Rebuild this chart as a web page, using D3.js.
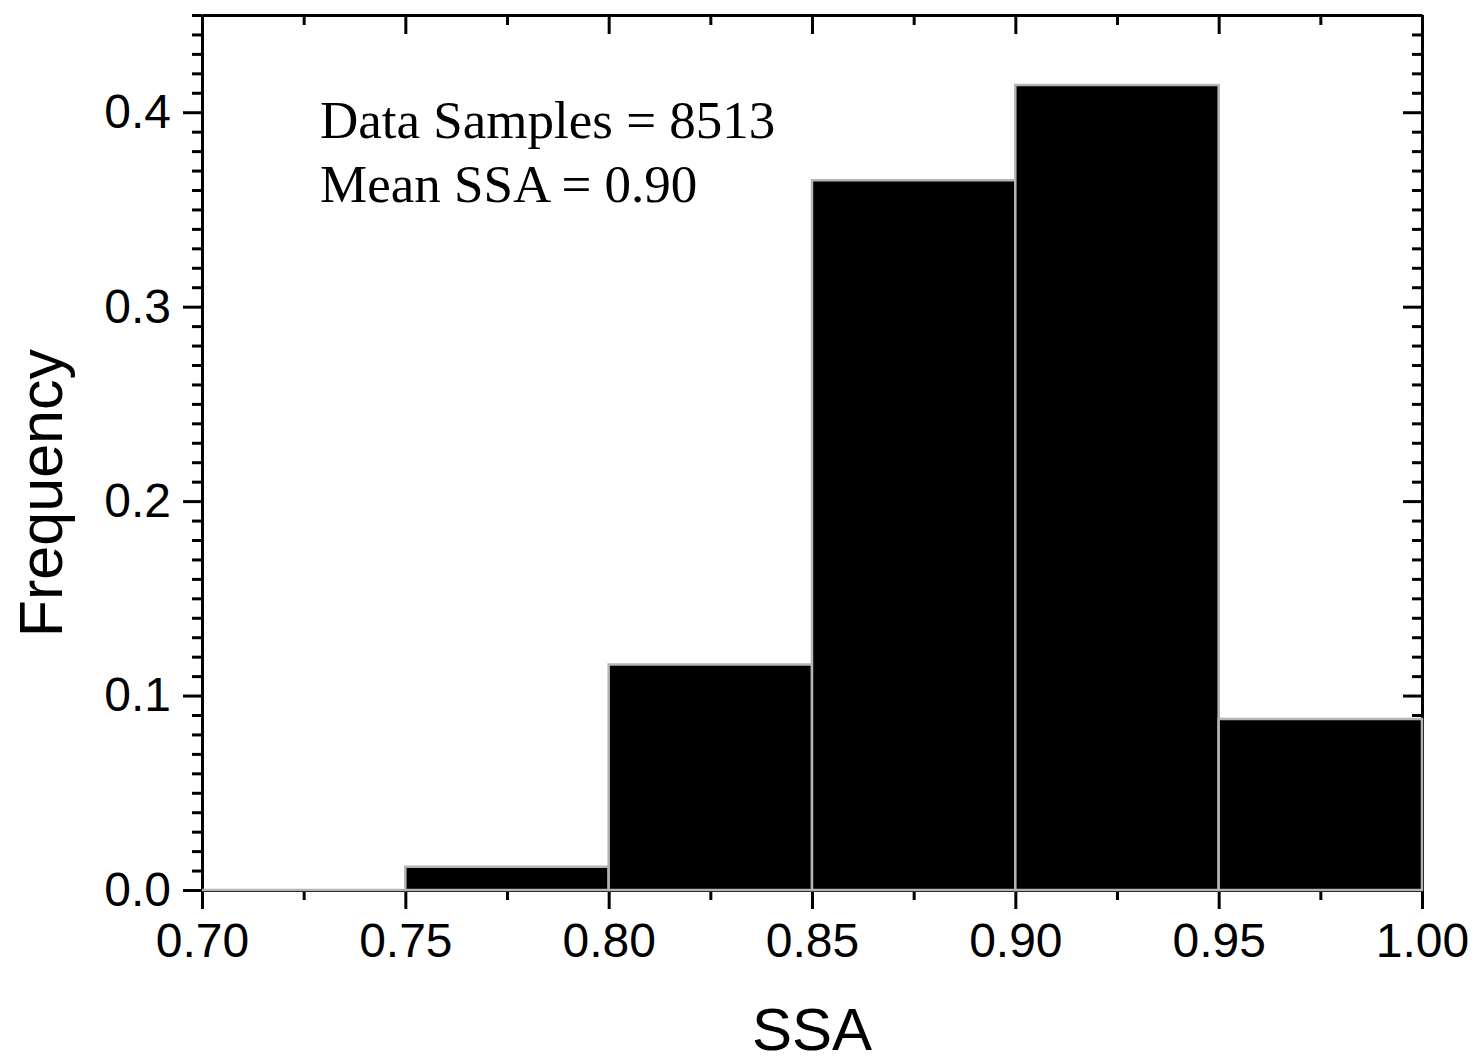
<!DOCTYPE html>
<html>
<head>
<meta charset="utf-8">
<script src="https://cdn.jsdelivr.net/npm/d3@7"></script>
<style>
  html, body { margin: 0; padding: 0; background: #fff; }
  svg { display: block; }
</style>
</head>
<body>
<svg id="chart" width="1479" height="1063"></svg>
<script>
// Histogram bins of single scattering albedo (SSA)
const binStarts = [0.70, 0.75, 0.80, 0.85, 0.90, 0.95];
const binWidth = 0.05;
const frequencies = [0.000, 0.012, 0.116, 0.365, 0.414, 0.088];
const xTickValues = [0.70, 0.75, 0.80, 0.85, 0.90, 0.95, 1.00];
const yTickValues = [0.0, 0.1, 0.2, 0.3, 0.4];
const annotationLines = ["Data Samples = 8513", "Mean SSA = 0.90"];

const svg = d3.select("#chart");
const margin = { left: 202, right: 57, top: 15, bottom: 173 };
const W = 1479, H = 1063;
const innerW = W - margin.left - margin.right;
const innerH = H - margin.top - margin.bottom;

const x = d3.scaleLinear().domain([0.70, 1.00]).range([margin.left, margin.left + innerW]);
const y = d3.scaleLinear().domain([0, 0.45]).range([margin.top + innerH, margin.top]);

const sans = "'Liberation Sans', Arial, sans-serif";
const serif = "'Liberation Serif', 'Times New Roman', serif";

const xMinor = d3.range(0.725, 1.0, 0.05);
const yMinor = d3.range(0, 451).map(i => i / 1000).filter((v, i) => i % 10 === 0 && i % 100 !== 0);

function styleAxis(g) {
  g.selectAll("path.domain").attr("stroke", "#000").attr("stroke-width", 3);
  g.selectAll(".tick line").attr("stroke", "#000").attr("stroke-width", 3);
  g.selectAll(".tick text").attr("font-family", sans).attr("font-size", 48).attr("fill", "#000");
}

// Bottom axis: outward ticks with labels
const gBottom = svg.append("g").attr("transform", `translate(0,${y(0)})`)
  .call(d3.axisBottom(x).tickValues(xTickValues).tickFormat(d3.format(".2f"))
    .tickSizeInner(19).tickSizeOuter(0).tickPadding(12));
styleAxis(gBottom);
gBottom.selectAll(".tick text").attr("dy", "0.75em");
svg.append("g").attr("transform", `translate(0,${y(0)})`)
  .call(d3.axisBottom(x).tickValues(xMinor).tickFormat("").tickSizeInner(10).tickSizeOuter(0))
  .call(styleAxis).select("path.domain").remove();

// Top axis: inward ticks
svg.append("g").attr("transform", `translate(0,${y(0.45)})`)
  .call(d3.axisBottom(x).tickValues(xTickValues).tickFormat("").tickSizeInner(19).tickSizeOuter(0))
  .call(styleAxis);
svg.append("g").attr("transform", `translate(0,${y(0.45)})`)
  .call(d3.axisBottom(x).tickValues(xMinor).tickFormat("").tickSizeInner(10).tickSizeOuter(0))
  .call(styleAxis).select("path.domain").remove();

// Left axis: outward ticks with labels
const gLeft = svg.append("g").attr("transform", `translate(${x(0.70)},0)`)
  .call(d3.axisLeft(y).tickValues(yTickValues).tickFormat(d3.format(".1f"))
    .tickSizeInner(19).tickSizeOuter(0).tickPadding(12));
styleAxis(gLeft);
svg.append("g").attr("transform", `translate(${x(0.70)},0)`)
  .call(d3.axisLeft(y).tickValues(yMinor).tickFormat("").tickSizeInner(10).tickSizeOuter(0))
  .call(styleAxis).select("path.domain").remove();

// Right axis: inward ticks
svg.append("g").attr("transform", `translate(${x(1.00)},0)`)
  .call(d3.axisLeft(y).tickValues(yTickValues).tickFormat("").tickSizeInner(19).tickSizeOuter(0))
  .call(styleAxis);
svg.append("g").attr("transform", `translate(${x(1.00)},0)`)
  .call(d3.axisLeft(y).tickValues(yMinor).tickFormat("").tickSizeInner(10).tickSizeOuter(0))
  .call(styleAxis).select("path.domain").remove();

// Bars drawn as closed paths so an empty bin still shows its outline
const bins = binStarts.map((s, i) => ({ x0: s, x1: s + binWidth, f: frequencies[i] }));
svg.append("g").selectAll("path").data(bins).join("path")
  .attr("d", d => {
    const p = d3.path();
    p.moveTo(x(d.x0), y(0));
    p.lineTo(x(d.x0), y(d.f));
    p.lineTo(x(d.x1), y(d.f));
    p.lineTo(x(d.x1), y(0));
    p.closePath();
    return p.toString();
  })
  .attr("fill", "#000")
  .attr("stroke", "#b4b4b4")
  .attr("stroke-width", 2.5);

// Axis titles
svg.append("text")
  .attr("x", x(0.85)).attr("y", 1050)
  .attr("text-anchor", "middle")
  .attr("font-family", sans).attr("font-size", 60)
  .text("SSA");

svg.append("text")
  .attr("transform", `translate(62,${y(0.2) - 8}) rotate(-90)`)
  .attr("text-anchor", "middle")
  .attr("font-family", sans).attr("font-size", 61)
  .text("Frequency");

// Annotation
svg.append("g").selectAll("text").data(annotationLines).join("text")
  .attr("x", 320)
  .attr("y", (d, i) => 138 + i * 64)
  .attr("font-family", serif).attr("font-size", 53)
  .attr("fill", "#000")
  .text(d => d);
</script>
</body>
</html>
